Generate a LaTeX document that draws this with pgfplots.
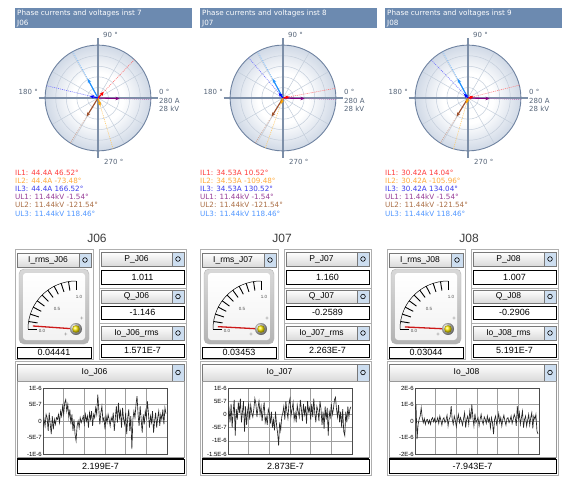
\documentclass[border=0pt]{standalone}
\usepackage{fontspec}
\setmainfont{Liberation Sans}
\newfontfamily\dv{DejaVu Sans}
\usepackage{pgfplots}
\pgfplotsset{compat=1.18}
\usetikzlibrary{arrows.meta}

\definecolor{hdr}{RGB}{108,138,176}
\definecolor{polbg}{RGB}{208,217,230}
\definecolor{polgridc}{RGB}{196,206,219}
\definecolor{polaxc}{RGB}{125,143,168}
\definecolor{polbord}{RGB}{110,130,160}
\definecolor{labc}{RGB}{85,100,120}
\definecolor{cIa}{RGB}{255,0,0}
\definecolor{cIb}{RGB}{255,165,0}
\definecolor{cIc}{RGB}{0,0,255}
\definecolor{cUa}{RGB}{128,0,128}
\definecolor{cUb}{RGB}{160,82,45}
\definecolor{cUc}{RGB}{30,144,255}
\definecolor{tIa}{RGB}{255,60,60}
\definecolor{tIb}{RGB}{255,170,60}
\definecolor{tIc}{RGB}{60,60,235}
\definecolor{tUa}{RGB}{150,60,150}
\definecolor{tUb}{RGB}{170,110,70}
\definecolor{tUc}{RGB}{80,150,255}
\definecolor{wframe}{RGB}{175,175,175}
\definecolor{whdrb}{RGB}{218,218,218}
\definecolor{wbord}{RGB}{120,120,120}
\definecolor{btnc}{RGB}{205,222,240}
\definecolor{titlec}{RGB}{60,60,60}
\definecolor{needle}{RGB}{205,25,25}

\pgfdeclareradialshading{polshade}{\pgfpoint{0bp}{0bp}}{color(0bp)=(white); color(12bp)=(white); color(25bp)=(polbg); color(50bp)=(polbg)}

\pgfplotsset{
  polarax/.style={hide axis, scale only axis, width=119pt, height=119pt,
    xmin=-315,xmax=315,ymin=-315,ymax=315, anchor=center, clip=false},
  dotl/.style={line width=0.6pt, dash pattern=on 1pt off 1pt, no markers, data cs=polar},
  arr/.style={line width=1.1pt, -{Stealth[length=4pt,width=3.6pt]}, no markers, data cs=polar},
  gaugeax/.style={hide axis, scale only axis, width=67.2pt, height=72pt,
    xmin=-1.2,xmax=0.2,ymin=-0.3,ymax=1.2, anchor=center, clip=false},
  needlep/.style={needle, line width=1.3pt, no markers, data cs=polar},
  ioax/.style={scale only axis, width=124pt, height=66pt, anchor=center,
    xmin=0, xmax=120, xtick={0,20,...,120}, xticklabels={}, major tick length=0pt,
    grid=major, grid style={gray!75, line width=0.4pt},
    axis line style={black!70, line width=0.6pt},
    yticklabel style={font=\fontsize{6}{6.5}\selectfont, inner sep=1pt}},
  iol/.style={black!85, line width=0.65pt, no markers},
}

\tikzset{
  plab/.style={font=\dv\fontsize{7}{8}\selectfont, text=labc, inner sep=0pt},
  leg/.style={font=\dv\fontsize{7.2}{8}\selectfont, inner sep=0pt, anchor=base west},
  hdt/.style={font=\dv\fontsize{7.2}{8}\selectfont, inner sep=0pt, anchor=base west, text=white},
}

\newcommand\polgrid{%
  \shade[shading=polshade] (axis cs:0,0) circle[radius=280];
  \draw[polgridc,line width=0.5pt] (axis cs:0,0) circle[radius=56] (axis cs:0,0) circle[radius=112]
     (axis cs:0,0) circle[radius=168] (axis cs:0,0) circle[radius=224];
  \pgfplotsinvokeforeach{30,60,120,150,210,240,300,330}{\draw[polgridc,line width=0.5pt] (axis cs:0,0) -- (axis cs:{280*cos(##1)},{280*sin(##1)});}
  \draw[polaxc,line width=1.1pt] (axis cs:-315,0) -- (axis cs:315,0) (axis cs:0,-315) -- (axis cs:0,315);
  \draw[polbord,line width=0.9pt] (axis cs:0,0) circle[radius=280];
}

\newcommand\polframe[3]{%
  \fill[hdr] (#1+15,-8) rectangle (#1+192,-28);
  \node[hdt] at (#1+17,-15.8) {Phase currents and voltages inst #2};
  \node[hdt] at (#1+17,-26) {#3};
  \node[plab,anchor=west] at (#1+103,-35) {90 °};
  \node[plab,anchor=east] at (#1+38,-92) {180 °};
  \node[plab,anchor=west] at (#1+159,-92) {0 °};
  \node[plab,anchor=west] at (#1+159,-100.5) {280 A};
  \node[plab,anchor=west] at (#1+159,-109) {28 kV};
  \node[plab,anchor=west] at (#1+104,-162) {270 °};
}

\newcommand\whead[5]{%
  \shade[top color=white, bottom color=whdrb, draw=wbord, line width=0.5pt] (#1,-#2) rectangle (#3,-#4);
  \fill[btnc] (#3-12,-#2) rectangle (#3,-#4);
  \draw[wbord, line width=0.5pt] (#3-12,-#2) -- (#3-12,-#4) (#1,-#2) rectangle (#3,-#4);
  \draw[black, line width=0.6pt] ({#3-6},{-(#2+#4)/2}) circle[radius=2.3];
  \node[font=\fontsize{8.5}{9}\selectfont, inner sep=0pt] at ({(#1+#3-12)/2},{-(#2+#4)/2}) {#5};
}
\newcommand\wval[5]{%
  \draw[black, line width=0.7pt, fill=white] (#1,-#2) rectangle (#3,-#4);
  \node[font=\fontsize{9}{10}\selectfont, inner sep=0pt] at ({(#1+#3)/2},{-(#2+#4)/2}) {#5};
}

\newcommand\lowpanel[6]{%
  \node[font=\fontsize{12}{12}\selectfont, text=titlec] at (#1+97,-238) {#2};
  \draw[wframe, line width=0.6pt] (#1+15,-249) rectangle (#1+93,-359);
  \whead{#1+17}{253}{#1+91}{267}{I\_rms\_#2}
  \shade[top color=gray!30, bottom color=gray!60, rounded corners=5pt, draw=gray!60] (#1+19,-269) rectangle (#1+89,-344);
  \shade[top color=white, bottom color=gray!10, rounded corners=3pt] (#1+23,-273) rectangle (#1+85,-340);
  \begin{scope}[shift={(#1+76,-329)}]
    \draw[line width=0.5pt] (180:48) arc[start angle=180,end angle=90,radius=48];
    \foreach \a in {0,9,...,90} \draw[line width=0.9pt] (180-\a:39) -- (180-\a:48);
    \node[font=\fontsize{4.5}{5}\selectfont, text=black!70] at (-34,-2) {0.0};
    \node[font=\fontsize{4.5}{5}\selectfont, text=black!70] at (-19,20) {0.5};
    \node[font=\fontsize{4.5}{5}\selectfont, text=black!70] at (3,32) {1.0};
    \node[font=\fontsize{6}{6}\selectfont, text=gray] at (6,10) {+};
    \node[font=\fontsize{6}{6}\selectfont, text=gray] at (-10,-6) {+};
  \end{scope}
  \wval{#1+17}{347}{#1+91}{358}{#6}
  \draw[wframe, line width=0.6pt] (#1+99,-249) rectangle (#1+186,-288);
  \whead{#1+101}{252}{#1+184}{266}{P\_#2}
  \wval{#1+101}{270}{#1+184}{284}{#3}
  \draw[wframe, line width=0.6pt] (#1+99,-288) rectangle (#1+186,-323);
  \whead{#1+101}{290}{#1+184}{303}{Q\_#2}
  \wval{#1+101}{306}{#1+184}{319}{#4}
  \draw[wframe, line width=0.6pt] (#1+99,-323) rectangle (#1+186,-359);
  \whead{#1+101}{326}{#1+184}{340}{Io\_#2\_rms}
  \wval{#1+101}{344}{#1+184}{357}{#5}
  \draw[wframe, line width=0.6pt] (#1+15,-361) rectangle (#1+186,-475);
  \whead{#1+17}{364}{#1+184}{381}{Io\_#2}
  \draw[gray!80, fill=white, line width=0.5pt] (#1+17,-381) rectangle (#1+184,-457);
}
\newcommand\knob[1]{%
  \shade[ball color=gray!25] (#1+76,-329) circle[radius=6];
  \shade[ball color=yellow!85!orange] (#1+76,-329) circle[radius=3.8];
}
\newcommand\ioval[2]{%
  \wval{#1+17}{459}{#1+184}{473}{#2}
  \draw[black, line width=1.3pt] (#1+17,-458.5) -- (#1+184,-458.5);
}

\begin{document}
\begin{tikzpicture}[x=1pt,y=1pt]
\path[use as bounding box] (0,0) rectangle (564,-476);

\polframe{0}{7}{J06}
\polframe{185}{8}{J07}
\polframe{370}{9}{J08}

\begin{axis}[polarax, at={(98pt,-98pt)}]
\polgrid
\addplot[dotl,cIa!55] coordinates {(46.52,0)(46.52,280)};
\addplot[dotl,cIb!60] coordinates {(-73.48,0)(-73.48,280)};
\addplot[dotl,cIc!55] coordinates {(166.52,0)(166.52,280)};
\addplot[dotl,cUa!60] coordinates {(-1.54,0)(-1.54,280)};
\addplot[dotl,cUb!60] coordinates {(-121.54,0)(-121.54,280)};
\addplot[dotl,cUc!60] coordinates {(118.46,0)(118.46,280)};
% voltages: 28 kV full scale = 280 units, so 11.44 kV -> 114.4
\addplot[arr,cUa] coordinates {(-1.54,0)(-1.54,114.4)};
\addplot[arr,cUb] coordinates {(-121.54,0)(-121.54,114.4)};
\addplot[arr,cUc] coordinates {(118.46,0)(118.46,114.4)};
\addplot[arr,cIa] coordinates {(46.52,0)(46.52,44.4)};
\addplot[arr,cIb] coordinates {(-73.48,0)(-73.48,44.4)};
\addplot[arr,cIc] coordinates {(166.52,0)(166.52,44.4)};
\end{axis}

\begin{axis}[polarax, at={(283pt,-98pt)}]
\polgrid
\addplot[dotl,cIa!55] coordinates {(10.52,0)(10.52,280)};
\addplot[dotl,cIb!60] coordinates {(-109.48,0)(-109.48,280)};
\addplot[dotl,cIc!55] coordinates {(130.52,0)(130.52,280)};
\addplot[dotl,cUa!60] coordinates {(-1.54,0)(-1.54,280)};
\addplot[dotl,cUb!60] coordinates {(-121.54,0)(-121.54,280)};
\addplot[dotl,cUc!60] coordinates {(118.46,0)(118.46,280)};
\addplot[arr,cUa] coordinates {(-1.54,0)(-1.54,114.4)};
\addplot[arr,cUb] coordinates {(-121.54,0)(-121.54,114.4)};
\addplot[arr,cUc] coordinates {(118.46,0)(118.46,114.4)};
\addplot[arr,cIa] coordinates {(10.52,0)(10.52,34.53)};
\addplot[arr,cIb] coordinates {(-109.48,0)(-109.48,34.53)};
\addplot[arr,cIc] coordinates {(130.52,0)(130.52,34.53)};
\end{axis}

\begin{axis}[polarax, at={(468pt,-98pt)}]
\polgrid
\addplot[dotl,cIa!55] coordinates {(14.04,0)(14.04,280)};
\addplot[dotl,cIb!60] coordinates {(-105.96,0)(-105.96,280)};
\addplot[dotl,cIc!55] coordinates {(134.04,0)(134.04,280)};
\addplot[dotl,cUa!60] coordinates {(-1.54,0)(-1.54,280)};
\addplot[dotl,cUb!60] coordinates {(-121.54,0)(-121.54,280)};
\addplot[dotl,cUc!60] coordinates {(118.46,0)(118.46,280)};
\addplot[arr,cUa] coordinates {(-1.54,0)(-1.54,114.4)};
\addplot[arr,cUb] coordinates {(-121.54,0)(-121.54,114.4)};
\addplot[arr,cUc] coordinates {(118.46,0)(118.46,114.4)};
\addplot[arr,cIa] coordinates {(14.04,0)(14.04,30.42)};
\addplot[arr,cIb] coordinates {(-105.96,0)(-105.96,30.42)};
\addplot[arr,cIc] coordinates {(134.04,0)(134.04,30.42)};
\end{axis}

\node[leg,text=tIa] at (15,-175.5) {IL1: 44.4A 46.52°};
\node[leg,text=tIb] at (15,-183.6) {IL2: 44.4A -73.48°};
\node[leg,text=tIc] at (15,-191.7) {IL3: 44.4A 166.52°};
\node[leg,text=tUa] at (15,-199.8) {UL1: 11.44kV -1.54°};
\node[leg,text=tUb] at (15,-207.9) {UL2: 11.44kV -121.54°};
\node[leg,text=tUc] at (15,-216.0) {UL3: 11.44kV 118.46°};

\node[leg,text=tIa] at (200,-175.5) {IL1: 34.53A 10.52°};
\node[leg,text=tIb] at (200,-183.6) {IL2: 34.53A -109.48°};
\node[leg,text=tIc] at (200,-191.7) {IL3: 34.53A 130.52°};
\node[leg,text=tUa] at (200,-199.8) {UL1: 11.44kV -1.54°};
\node[leg,text=tUb] at (200,-207.9) {UL2: 11.44kV -121.54°};
\node[leg,text=tUc] at (200,-216.0) {UL3: 11.44kV 118.46°};

\node[leg,text=tIa] at (385,-175.5) {IL1: 30.42A 14.04°};
\node[leg,text=tIb] at (385,-183.6) {IL2: 30.42A -105.96°};
\node[leg,text=tIc] at (385,-191.7) {IL3: 30.42A 134.04°};
\node[leg,text=tUa] at (385,-199.8) {UL1: 11.44kV -1.54°};
\node[leg,text=tUb] at (385,-207.9) {UL2: 11.44kV -121.54°};
\node[leg,text=tUc] at (385,-216.0) {UL3: 11.44kV 118.46°};

\lowpanel{0}{J06}{1.011}{-1.146}{1.571E-7}{0.04441}
\lowpanel{185}{J07}{1.160}{-0.2589}{2.263E-7}{0.03453}
\lowpanel{372}{J08}{1.007}{-0.2906}{5.191E-7}{0.03044}

% gauge needles: angle = 180 - 90*value
\begin{axis}[gaugeax, at={(52pt,-307.4pt)}]
\addplot[needlep] coordinates {(176.00,0)(176.00,0.9)};
\end{axis}
\begin{axis}[gaugeax, at={(237pt,-307.4pt)}]
\addplot[needlep] coordinates {(176.89,0)(176.89,0.9)};
\end{axis}
\begin{axis}[gaugeax, at={(424pt,-307.4pt)}]
\addplot[needlep] coordinates {(177.26,0)(177.26,0.9)};
\end{axis}
\knob{0}\knob{185}\knob{372}

% Io charts (values in units of 1E-7)
\begin{axis}[ioax, at={(105pt,-421pt)}, ymin=-10, ymax=10, ytick={-10,-5,0,5,10},
  yticklabels={-1E-6,-5E-7,0,5E-7,1E-6}]
\addplot[iol] coordinates {
(0,-2.0)(1,0.5)(2,-1.5)(3,2.0)(4,1.0)(5,-3.0)(6,2.5)(7,-1.0)(8,-4.0)(9,1.5)
(10,-2.5)(11,0.5)(12,-1.0)(13,1.0)(14,0.5)(15,2.0)(16,-0.5)(17,3.0)(18,1.5)(19,4.5)
(20,2.0)(21,5.5)(22,6.5)(23,3.0)(24,5.0)(25,1.0)(26,3.5)(27,-1.0)(28,2.0)(29,-3.0)
(30,0.5)(31,-4.0)(32,-6.0)(33,-1.5)(34,0.0)(35,-2.0)(36,1.0)(37,-0.5)(38,0.5)(39,1.5)
(40,-1.0)(41,2.0)(42,0.0)(43,1.5)(44,-2.0)(45,2.5)(46,0.5)(47,3.0)(48,-1.5)(49,2.0)
(50,1.0)(51,4.0)(52,2.0)(53,8.0)(54,3.5)(55,-1.0)(56,2.5)(57,4.5)(58,0.0)(59,1.0)
(60,-2.5)(61,1.5)(62,-0.5)(63,2.0)(64,0.5)(65,-1.5)(66,1.0)(67,0.0)(68,2.5)(69,-3.0)
(70,1.0)(71,4.5)(72,-0.5)(73,5.5)(74,1.0)(75,3.0)(76,-2.0)(77,4.0)(78,0.5)(79,-1.0)
(80,2.5)(81,-4.0)(82,1.0)(83,3.5)(84,-3.0)(85,1.5)(86,-8.5)(87,0.5)(88,3.0)(89,1.0)
(90,5.0)(91,7.5)(92,2.0)(93,-1.5)(94,4.5)(95,0.5)(96,-3.5)(97,2.0)(98,-1.0)(99,3.0)
(100,1.0)(101,6.0)(102,2.5)(103,-2.0)(104,1.5)(105,-0.5)(106,3.0)(107,-3.5)(108,0.0)(109,2.5)
(110,-2.0)(111,1.0)(112,3.0)(113,-1.5)(114,2.0)(115,0.5)(116,3.5)(117,-1.0)(118,4.0)(119,2.2)};
\end{axis}

\begin{axis}[ioax, at={(290pt,-421pt)}, ymin=-15, ymax=10, ytick={-15,-10,-5,0,5,10},
  yticklabels={-1.5E-6,-1E-6,-5E-7,0,5E-7,1E-6}]
\addplot[iol] coordinates {
(0,-1.0)(1,2.0)(2,-3.0)(3,4.0)(4,-5.0)(5,1.0)(6,5.5)(7,-8.0)(8,2.0)(9,-2.0)
(10,4.5)(11,0.5)(12,6.0)(13,-3.0)(14,1.0)(15,5.0)(16,-6.5)(17,3.0)(18,-4.0)(19,1.5)
(20,4.0)(21,-2.0)(22,3.5)(23,0.5)(24,-1.0)(25,2.0)(26,6.0)(27,4.0)(28,-1.0)(29,2.5)
(30,5.0)(31,0.0)(32,3.0)(33,-2.5)(34,1.5)(35,4.5)(36,-3.0)(37,-1.0)(38,-4.0)(39,2.0)
(40,0.5)(41,-3.5)(42,1.0)(43,-5.0)(44,-2.0)(45,-6.0)(46,1.0)(47,-4.0)(48,-7.0)(49,-11.8)
(50,-3.0)(51,-6.0)(52,-1.0)(53,0.5)(54,3.0)(55,-2.0)(56,5.0)(57,1.0)(58,-1.5)(59,4.0)
(60,6.0)(61,-0.5)(62,2.0)(63,4.5)(64,-2.0)(65,0.5)(66,-3.0)(67,3.5)(68,1.0)(69,-1.0)
(70,5.5)(71,2.0)(72,-2.5)(73,4.0)(74,0.0)(75,3.0)(76,-3.5)(77,5.0)(78,1.0)(79,2.5)
(80,-2.0)(81,4.0)(82,-1.0)(83,6.0)(84,0.5)(85,-3.0)(86,3.0)(87,1.5)(88,-2.5)(89,5.0)
(90,2.0)(91,-4.0)(92,1.0)(93,-5.5)(94,3.0)(95,-2.0)(96,2.5)(97,-8.0)(98,1.0)(99,-1.0)
(100,4.0)(101,0.0)(102,2.0)(103,5.5)(104,6.5)(105,2.0)(106,-1.0)(107,3.5)(108,-3.0)(109,1.0)
(110,-5.0)(111,2.0)(112,-6.5)(113,-8.0)(114,1.0)(115,-3.0)(116,3.0)(117,-1.0)(118,2.0)(119,2.9)};
\end{axis}

\begin{axis}[ioax, at={(477pt,-421pt)}, ymin=-20, ymax=20, ytick={-20,-10,0,10,20},
  yticklabels={-2E-6,-1E-6,0,1E-6,2E-6}]
\addplot[iol] coordinates {
(0,7.0)(1,9.0)(2,-11.0)(3,-2.0)(4,1.0)(5,3.0)(6,8.0)(7,2.0)(8,-1.0)(9,1.5)
(10,-2.0)(11,0.5)(12,1.0)(13,-1.5)(14,0.5)(15,-2.0)(16,1.0)(17,2.0)(18,-0.5)(19,1.5)
(20,-1.0)(21,0.0)(22,2.0)(23,-1.5)(24,3.0)(25,0.5)(26,-2.5)(27,1.0)(28,2.0)(29,-1.0)
(30,0.5)(31,3.5)(32,-3.0)(33,1.0)(34,2.5)(35,9.0)(36,1.0)(37,-2.0)(38,3.0)(39,0.5)
(40,-3.5)(41,1.0)(42,4.0)(43,-1.0)(44,2.0)(45,0.0)(46,-2.5)(47,1.5)(48,5.0)(49,-4.0)
(50,1.0)(51,3.0)(52,-2.0)(53,6.0)(54,1.0)(55,10.0)(56,2.0)(57,-3.0)(58,4.5)(59,-1.0)
(60,0.5)(61,2.0)(62,-3.0)(63,1.0)(64,4.0)(65,0.0)(66,-2.0)(67,2.5)(68,1.0)(69,-1.5)
(70,3.0)(71,-0.5)(72,1.5)(73,-4.0)(74,2.0)(75,-1.0)(76,-8.0)(77,1.0)(78,3.0)(79,-2.0)
(80,0.5)(81,4.5)(82,-1.0)(83,2.0)(84,-3.0)(85,1.0)(86,3.5)(87,0.0)(88,-2.5)(89,1.5)
(90,2.0)(91,-1.0)(92,0.5)(93,3.0)(94,-1.5)(95,1.0)(96,4.0)(97,2.0)(98,-3.0)(99,9.0)
(100,1.0)(101,5.0)(102,-2.0)(103,2.0)(104,6.0)(105,-4.0)(106,1.0)(107,3.0)(108,-3.0)(109,0.5)
(110,4.0)(111,-2.5)(112,2.0)(113,5.0)(114,-4.5)(115,3.0)(116,1.0)(117,4.0)(118,-6.0)(119,-7.9)};
\end{axis}

\ioval{0}{2.199E-7}
\ioval{185}{2.873E-7}
\ioval{372}{-7.943E-7}

\end{tikzpicture}
\end{document}
